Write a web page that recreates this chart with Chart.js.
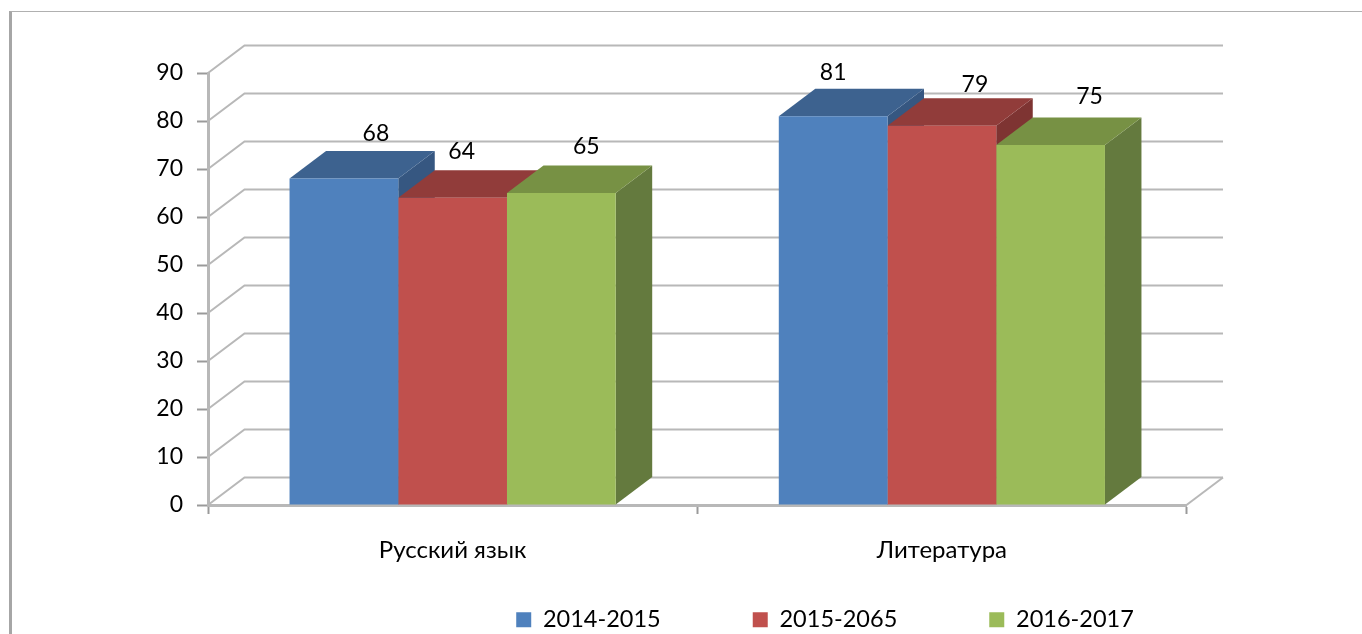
<!DOCTYPE html>
<html><head><meta charset="utf-8">
<script src="https://cdn.jsdelivr.net/npm/chart.js@4"></script>
<style>
html,body{margin:0;padding:0;background:#fff;overflow:hidden}
#wrap{position:relative;width:1362px;height:634px}
#frame{position:absolute;left:9px;top:11px;right:0;bottom:0;border-left:3px solid #a6a6a6;border-top:1px solid #b0b0b0}
canvas{position:absolute;left:0;top:0;filter:blur(.35px)}
</style></head><body>
<div id="wrap"><div id="frame"></div><canvas id="c" width="1362" height="634"></canvas></div>
<script>
const categories = ['Русский язык', 'Литература'];
const seriesNames = ['2014-2015', '2015-2065', '2016-2017'];
const values2014 = [68, 81];
const values2015 = [64, 79];
const values2016 = [65, 75];
const frontColors = ['#4F81BD', '#C0504D', '#9BBB59'];
const topColors = ['#3D628F', '#913C3A', '#779144'];
const sideColors = ['#365781', '#7E3432', '#647A3E'];
const labelShift = [[32, 9, 25], [0, 33, 39]];
const labelRise = [45, 46, 46, 44, 41, 48];
const DX = 36.5, DY = 27.5;
const FONT = 'Lato, "Open Sans", sans-serif';
const GRID = '#b8b8b8';

const perspective = {
  id: 'perspective',
  beforeLayout(chart) {
    const lg = chart.legend;
    if (lg && !lg._patched) {
      const fit = lg.fit;
      lg.fit = function () { fit.call(this); this.height = 30; };
      lg._patched = true;
    }
  },
  afterLayout(chart) {
    const lg = chart.legend;
    const p = lg.options.labels.padding;
    lg.top = 608 - p;
    lg.left = 288;
    lg.right = 1362;
    lg.bottom = 634;
  },
  beforeDatasetsDraw(chart) {
    const { ctx, scales: { x, y } } = chart;
    ctx.save();
    ctx.strokeStyle = GRID;
    ctx.lineWidth = 2;
    y.ticks.forEach(t => {
      const py = y.getPixelForValue(t.value);
      ctx.beginPath();
      ctx.moveTo(x.left, py);
      ctx.lineTo(x.left + DX, py - DY);
      ctx.lineTo(x.right + DX, py - DY);
      ctx.stroke();
    });
    const y0 = y.getPixelForValue(0);
    ctx.beginPath();
    ctx.moveTo(x.right, y0);
    ctx.lineTo(x.right + DX, y0 - DY);
    ctx.stroke();
    chart.data.labels.forEach((_, c) => {
      chart.data.datasets.forEach((ds, s) => {
        const b = chart.getDatasetMeta(s).data[c];
        const l = b.x - b.width / 2, r = b.x + b.width / 2, t = b.y, base = b.base;
        ctx.fillStyle = sideColors[s];
        ctx.beginPath();
        ctx.moveTo(r, t); ctx.lineTo(r + DX, t - DY); ctx.lineTo(r + DX, base - DY); ctx.lineTo(r, base);
        ctx.closePath(); ctx.fill();
        ctx.fillStyle = topColors[s];
        ctx.beginPath();
        ctx.moveTo(l, t); ctx.lineTo(l + DX, t - DY); ctx.lineTo(r + DX, t - DY); ctx.lineTo(r, t);
        ctx.closePath(); ctx.fill();
      });
    });
    ctx.restore();
  },
  afterDatasetsDraw(chart) {
    const { ctx } = chart;
    ctx.save();
    ctx.font = '23px ' + FONT;
    ctx.fillStyle = '#000';
    ctx.textAlign = 'center';
    ctx.textBaseline = 'middle';
    chart.data.labels.forEach((_, c) => {
      chart.data.datasets.forEach((ds, s) => {
        const b = chart.getDatasetMeta(s).data[c];
        ctx.fillText(String(ds.data[c]), b.x + labelShift[c][s], b.y - labelRise[c * 3 + s]);
      });
    });
    ctx.restore();
  }
};

new Chart(document.getElementById('c'), {
  type: 'bar',
  data: {
    labels: categories,
    datasets: [
      { label: seriesNames[0], data: values2014, backgroundColor: frontColors[0] },
      { label: seriesNames[1], data: values2015, backgroundColor: frontColors[1] },
      { label: seriesNames[2], data: values2016, backgroundColor: frontColors[2] }
    ]
  },
  plugins: [perspective],
  options: {
    responsive: false,
    animation: false,
    layout: { padding: { top: 73, right: 175.5, left: 0, bottom: 0 } },
    datasets: { bar: { categoryPercentage: 2 / 3, barPercentage: 1 } },
    scales: {
      x: {
        afterFit(s) { s.height = 99; },
        border: { color: GRID, width: 3 },
        grid: { drawOnChartArea: false, color: '#9a9a9a', tickLength: 9, tickWidth: 2, offset: true },
        ticks: { color: '#000', font: { family: FONT, size: 24 }, padding: 22, maxRotation: 0 }
      },
      y: {
        min: 0, max: 90,
        afterFit(s) { s.width = 208; },
        border: { color: GRID, width: 3 },
        grid: { drawOnChartArea: false, color: '#9a9a9a', tickLength: 11, tickWidth: 2 },
        ticks: { stepSize: 10, color: '#000', font: { family: FONT, size: 23 }, padding: 14 }
      }
    },
    plugins: {
      tooltip: { enabled: false },
      title: { display: false },
      legend: {
        position: 'bottom',
        labels: { color: '#000', font: { family: FONT, size: 23.5 }, boxWidth: 15, boxHeight: 15, padding: 92 }
      }
    }
  }
});
</script>
</body></html>
